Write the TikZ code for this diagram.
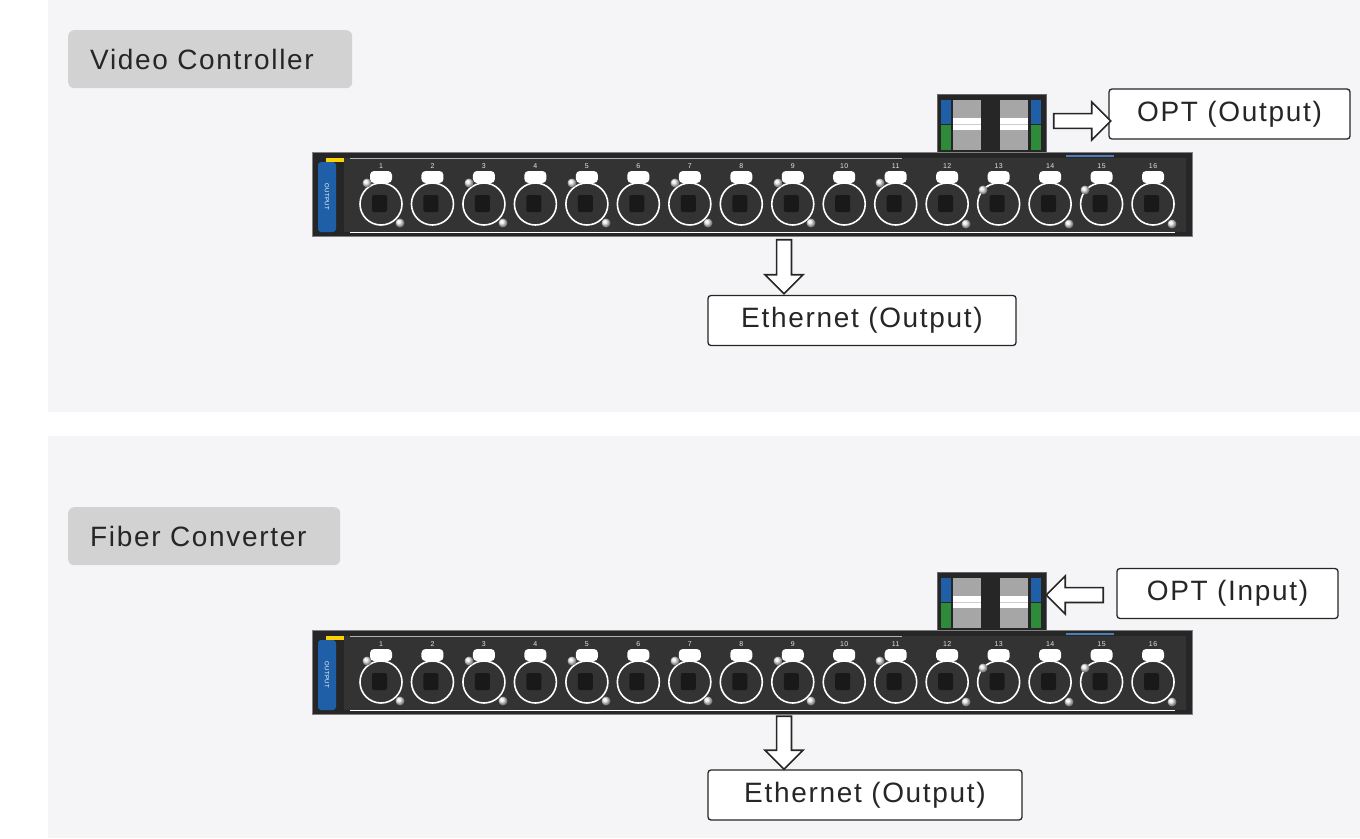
\documentclass[tikz,border=0pt]{standalone}
\usepackage{fontspec}
\setmainfont[LetterSpace=6]{Liberation Sans}
\usetikzlibrary{shapes.arrows}
\definecolor{bgpanel}{HTML}{F5F5F7}
\definecolor{tabgray}{HTML}{D2D2D2}
\definecolor{devbody}{HTML}{262626}
\definecolor{devface}{HTML}{333333}
\definecolor{optblue}{HTML}{1F5FA8}
\definecolor{optgreen}{HTML}{2E8B3A}
\tikzset{
  titlebox/.style={fill=tabgray,rounded corners=6pt,anchor=north west,text width=#1,inner xsep=22pt,minimum height=58pt,font=\fontsize{28}{30}\selectfont,text=black!85},
  labelbox/.style={draw=black!85,line width=1.3pt,rounded corners=3pt,fill=white,font=\fontsize{28}{30}\selectfont,text=black!85,minimum height=50pt,inner xsep=0pt},
  blockarrow/.style={single arrow,draw=black!85,line width=1.6pt,fill=white,minimum height=#1,minimum width=38pt,single arrow head extend=9pt,inner sep=5pt},
  port/.style={draw=white,line width=1.6pt,fill=black!80,circle,minimum size=42pt,inner sep=0pt},
  porttab/.style={fill=white,rounded corners=4pt,minimum width=22pt,minimum height=12pt,inner sep=0pt},
  led/.style={ball color=white!85!gray,circle,minimum size=9pt,inner sep=0pt},
  portnum/.style={text=white!80!gray,font=\fontsize{7}{8}\selectfont,inner sep=0pt}
}
\newcommand\drawdevice[2]{%
 \begin{scope}[yshift=#1]
  \node[fill=devbody,draw=black!60,minimum width=109pt,minimum height=58pt,inner sep=0pt,anchor=north west] (#2opt) at (937,94) {};
  \foreach \k/\xx in {a/967,b/1014}{
    \fill[gray!70] (\xx-14,100) rectangle (\xx+14,150);
    \fill[white] (\xx-14,118) rectangle (\xx+14,130);
    \draw[gray!40] (\xx-14,124) -- (\xx+14,124);
  }
  \fill[optblue] (941,100) rectangle (951,124);
  \fill[optgreen] (941,125) rectangle (951,150);
  \fill[optblue] (1031,100) rectangle (1041,124);
  \fill[optgreen] (1031,125) rectangle (1041,150);
  \node[fill=devbody,draw=black!50,minimum width=880pt,minimum height=84pt,inner sep=0pt,anchor=north west] (#2dev) at (312,152) {};
  \fill[devface] (344,158) rectangle (1186,232);
  \fill[optblue,rounded corners=3pt] (318,162) rectangle (336,232);
  \fill[yellow!70!orange] (326,158) rectangle (344,162);
  \node[rotate=-90,text=white!80,font=\fontsize{6}{7}\selectfont] at (327,197) {OUTPUT};
  \draw[white,line width=1pt] (350,232) -- (1175,232);
  \draw[gray!60,line width=0.6pt] (350,158) -- (902,158);
  \draw[optblue!80!white,line width=1.2pt] (1066,156) -- (1114,156);
  \foreach \i in {1,...,16}{
    \pgfmathsetmacro\px{381+(\i-1)*51.47}
    \node[port] (#2p\i) at (\px,204) {};
    \fill[black!90,rounded corners=2pt] (\px-9,195) rectangle (\px+6,212);
    \node[porttab] at (\px,177) {};
    \node[portnum] at (\px,166) {\i};
  }
  \foreach \xx in {367,469,572,675,778,880}{\node[led] at (\xx,183) {};}
  \foreach \xx in {400,503,606,708,811}{\node[led] at (\xx,223) {};}
  \foreach \xx in {966,1069,1172}{\node[led] at (\xx,224) {};}
  \foreach \xx in {983,1085}{\node[led] at (\xx,190) {};}
 \end{scope}}
\begin{document}
\begin{tikzpicture}[x=1pt,y=-1pt]
\useasboundingbox (0,0) rectangle (1360,838);
\fill[white] (0,0) rectangle (1360,838);
\fill[bgpanel] (48,0) rectangle (1360,412);
\fill[bgpanel] (48,436) rectangle (1360,838);
\node[titlebox=240pt] (t1) at (68,30) {Video Controller};
\node[titlebox=228pt] (t2) at (68,507) {Fiber Converter};
\drawdevice{0pt}{a}
\drawdevice{-478pt}{b}
\node[labelbox,minimum width=241pt] (o1) at (1229.5,114) {OPT (Output)};
\node[blockarrow=57pt] (ar1) at (1078.5,121) {};
\node[labelbox,minimum width=308pt] (e1) at (862,320.5) {Ethernet (Output)};
\node[blockarrow=54pt,rotate=-90] (ad1) at (784,263) {};
\node[labelbox,minimum width=221pt] (o2) at (1227.5,593.5) {OPT (Input)};
\node[blockarrow=57pt,rotate=180] (ar2) at (1078.5,595) {};
\node[labelbox,minimum width=314pt] (e2) at (865,795) {Ethernet (Output)};
\node[blockarrow=53pt,rotate=-90] (ad2) at (784,739) {};
\end{tikzpicture}
\end{document}
